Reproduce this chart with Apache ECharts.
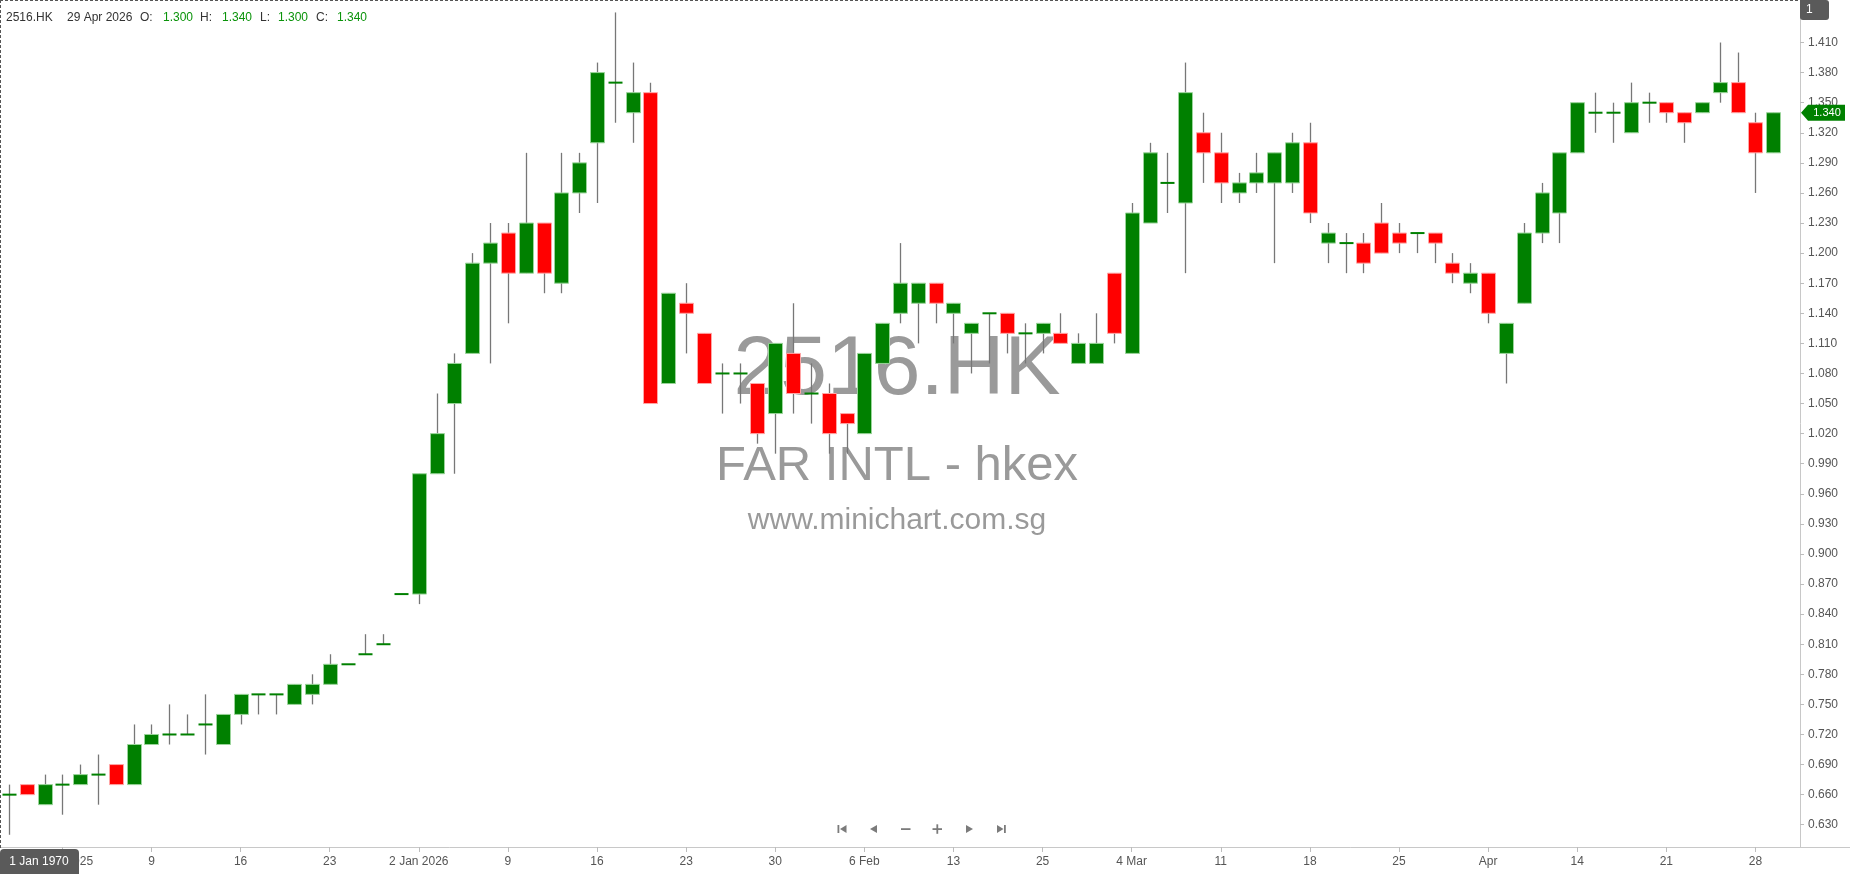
<!DOCTYPE html>
<html><head><meta charset="utf-8">
<script src="https://cdn.jsdelivr.net/npm/echarts@6/dist/echarts.min.js"></script>
<style>html,body{margin:0;padding:0;background:#fff}#c{width:1850px;height:874px}</style>
</head><body><div id="c"></div>
<script>
// ---- data ----
const dates = ['2025-11-27','2025-11-28','2025-12-01','2025-12-02','2025-12-03','2025-12-04','2025-12-05','2025-12-08','2025-12-09','2025-12-10',
'2025-12-11','2025-12-12','2025-12-15','2025-12-16','2025-12-17','2025-12-18','2025-12-19','2025-12-22','2025-12-23','2025-12-24',
'2025-12-29','2025-12-30','2025-12-31','2026-01-02','2026-01-05','2026-01-06','2026-01-07','2026-01-08','2026-01-09','2026-01-12',
'2026-01-13','2026-01-14','2026-01-15','2026-01-16','2026-01-19','2026-01-20','2026-01-21','2026-01-22','2026-01-23','2026-01-26',
'2026-01-27','2026-01-28','2026-01-29','2026-01-30','2026-02-02','2026-02-03','2026-02-04','2026-02-05','2026-02-06','2026-02-09',
'2026-02-10','2026-02-11','2026-02-12','2026-02-13','2026-02-16','2026-02-20','2026-02-23','2026-02-24','2026-02-25','2026-02-26',
'2026-02-27','2026-03-02','2026-03-03','2026-03-04','2026-03-05','2026-03-06','2026-03-09','2026-03-10','2026-03-11','2026-03-12',
'2026-03-13','2026-03-16','2026-03-17','2026-03-18','2026-03-19','2026-03-20','2026-03-23','2026-03-24','2026-03-25','2026-03-26',
'2026-03-27','2026-03-30','2026-03-31','2026-04-01','2026-04-08','2026-04-09','2026-04-10','2026-04-13','2026-04-14','2026-04-15',
'2026-04-16','2026-04-17','2026-04-20','2026-04-21','2026-04-22','2026-04-23','2026-04-24','2026-04-27','2026-04-28','2026-04-29'];

const open = [0.66,0.67,0.65,0.67,0.67,0.68,0.69,0.67,0.71,0.72,
0.72,0.73,0.71,0.74,0.76,0.76,0.75,0.76,0.77,0.79,
0.80,0.81,0.86,0.86,0.98,1.05,1.10,1.19,1.22,1.18,
1.23,1.17,1.26,1.31,1.37,1.34,1.36,1.07,1.15,1.12,
1.08,1.08,1.07,1.04,1.10,1.06,1.06,1.04,1.02,1.09,
1.14,1.15,1.17,1.14,1.12,1.14,1.14,1.12,1.12,1.12,
1.09,1.09,1.18,1.10,1.23,1.27,1.25,1.32,1.30,1.26,
1.27,1.27,1.27,1.31,1.21,1.21,1.21,1.23,1.22,1.22,
1.22,1.19,1.17,1.18,1.10,1.15,1.22,1.24,1.30,1.34,
1.34,1.32,1.35,1.35,1.34,1.34,1.36,1.37,1.33,1.30];

const high = [0.67,0.67,0.68,0.68,0.69,0.70,0.69,0.73,0.73,0.75,
0.74,0.76,0.74,0.76,0.76,0.76,0.77,0.78,0.80,0.79,
0.82,0.82,0.86,0.98,1.06,1.10,1.20,1.23,1.23,1.30,
1.23,1.30,1.30,1.39,1.44,1.39,1.37,1.16,1.17,1.12,
1.09,1.09,1.07,1.11,1.15,1.09,1.07,1.04,1.10,1.13,
1.21,1.17,1.17,1.15,1.13,1.14,1.14,1.13,1.13,1.14,
1.12,1.14,1.18,1.25,1.31,1.30,1.39,1.34,1.32,1.28,
1.30,1.30,1.32,1.33,1.23,1.22,1.22,1.25,1.23,1.22,
1.22,1.20,1.19,1.18,1.13,1.23,1.27,1.30,1.35,1.36,
1.35,1.37,1.36,1.35,1.34,1.35,1.41,1.40,1.34,1.34];

const low = [0.62,0.66,0.65,0.64,0.67,0.65,0.67,0.67,0.71,0.71,
0.72,0.70,0.71,0.73,0.74,0.74,0.75,0.75,0.77,0.79,
0.80,0.81,0.86,0.85,0.98,0.98,1.10,1.09,1.13,1.18,
1.16,1.16,1.24,1.25,1.33,1.31,1.05,1.07,1.10,1.07,
1.04,1.05,1.01,1.00,1.04,1.03,1.00,1.00,1.02,1.09,
1.13,1.11,1.13,1.11,1.08,1.09,1.10,1.09,1.10,1.11,
1.09,1.09,1.11,1.10,1.23,1.24,1.18,1.27,1.25,1.25,
1.26,1.19,1.26,1.23,1.19,1.18,1.18,1.20,1.20,1.20,
1.19,1.17,1.16,1.13,1.07,1.15,1.21,1.21,1.30,1.32,
1.31,1.32,1.33,1.33,1.31,1.34,1.35,1.34,1.26,1.30];

const close = [0.66,0.66,0.67,0.67,0.68,0.68,0.67,0.71,0.72,0.72,
0.72,0.73,0.74,0.76,0.76,0.76,0.77,0.77,0.79,0.79,
0.80,0.81,0.86,0.98,1.02,1.09,1.19,1.21,1.18,1.23,
1.18,1.26,1.29,1.38,1.37,1.36,1.05,1.16,1.14,1.07,
1.08,1.08,1.02,1.11,1.06,1.06,1.02,1.03,1.10,1.13,
1.17,1.17,1.15,1.15,1.13,1.14,1.12,1.12,1.13,1.11,
1.11,1.11,1.12,1.24,1.30,1.27,1.36,1.30,1.27,1.27,
1.28,1.30,1.31,1.24,1.22,1.21,1.19,1.20,1.21,1.22,
1.21,1.18,1.18,1.14,1.13,1.22,1.26,1.30,1.35,1.34,
1.34,1.35,1.35,1.34,1.33,1.35,1.37,1.34,1.30,1.34];

const tickIdx  = [3, 8, 13, 18, 23, 28, 33, 38, 43, 48, 53, 58, 63, 68, 73, 78, 83, 88, 93, 98];
const tickText = ['2 Dec 2025','9','16','23','2 Jan 2026','9','16','23','30','6 Feb','13','25','4 Mar','11','18','25','Apr','14','21','28'];
const yTicks = [0.63,0.66,0.69,0.72,0.75,0.78,0.81,0.84,0.87,0.90,0.93,0.96,0.99,1.02,1.05,1.08,1.11,1.14,1.17,1.20,1.23,1.26,1.29,1.32,1.35,1.38,1.41];
const yMin = 0.6078, yMax = 1.4524;
const symbol = '2516.HK', company = 'FAR INTL - hkex', site = 'www.minichart.com.sg';
const lastDate = '29 Apr 2026';

// ---- chart ----
const FONT = '"Liberation Sans", Arial, sans-serif';
const chart = echarts.init(document.getElementById('c'), null, {renderer: 'canvas'});
const seriesData = dates.map((d, i) => [i, open[i], close[i], low[i], high[i]]);

function renderItem(params, api) {
  const i = api.value(0), o = api.value(1), c = api.value(2), l = api.value(3), h = api.value(4);
  const pO = api.coord([i, o]), pC = api.coord([i, c]), pL = api.coord([i, l]), pH = api.coord([i, h]);
  const x = Math.round(pO[0]) + 0.5;
  const bw = Math.round(api.size([1, 0])[0] * 0.76);
  const children = [];
  if (h > l) {
    children.push({type: 'line', shape: {x1: x, y1: pH[1], x2: x, y2: pL[1]},
      style: {stroke: '#777777', lineWidth: 1.3}});
  }
  if (o === c) {
    children.push({type: 'line', shape: {x1: x - bw / 2, y1: pO[1], x2: x + bw / 2, y2: pO[1]},
      style: {stroke: '#008000', lineWidth: 2}});
  } else {
    const up = c > o;
    const top = Math.min(pO[1], pC[1]);
    const ht = Math.abs(pO[1] - pC[1]);
    children.push({type: 'rect', shape: {x: x - bw / 2, y: top, width: bw, height: ht},
      style: {fill: up ? '#008000' : '#ff0000', stroke: up ? '#9ad49a' : '#ffa5a5', lineWidth: 1}});
  }
  return {type: 'group', children};
}

chart.setOption({
  animation: false,
  backgroundColor: '#ffffff',
  grid: {left: 0, right: 50, top: 0, bottom: 27, containLabel: false},
  xAxis: {
    type: 'category',
    data: dates.concat(['']),
    boundaryGap: true,
    axisLine: {lineStyle: {color: '#c8c8c8', width: 1}},
    axisTick: {show: true, alignWithLabel: true, length: 5, lineStyle: {color: '#bdbdbd'},
      interval: (idx) => tickIdx.indexOf(idx) >= 0},
    axisLabel: {
      interval: (idx) => tickIdx.indexOf(idx) >= 0,
      formatter: (v, idx) => { const k = tickIdx.indexOf(idx); return k >= 0 ? tickText[k] : ''; },
      color: '#555', fontSize: 12, fontFamily: FONT, margin: 9
    },
    splitLine: {show: false}
  },
  yAxis: {
    type: 'value', position: 'right', min: yMin, max: yMax, scale: true,
    axisLine: {show: true, lineStyle: {color: '#c8c8c8', width: 1}},
    axisTick: {show: true, length: 4, lineStyle: {color: '#bdbdbd'}, customValues: yTicks},
    axisLabel: {customValues: yTicks, formatter: (v) => v.toFixed(3), color: '#555', fontSize: 12,
      fontFamily: FONT, margin: 8},
    splitLine: {show: false}
  },
  series: [{
    type: 'custom', renderItem, data: seriesData, z: 5,
    encode: {x: 0, y: [1, 2, 3, 4]}, clip: true
  }]
});

// ---- overlays ----
const lastY = chart.convertToPixel({yAxisIndex: 0}, close[close.length - 1]);
function txt(x, y, text, fill, font, align, extra) {
  return Object.assign({type: 'text', x, y, z: 100, silent: true,
    style: {text, fill, font, align: align || 'left', verticalAlign: 'middle',
      textAlign: align || 'left', textVerticalAlign: 'middle'}}, extra || {});
}
const hdrFont = '12px ' + FONT;
const green = '#0a930a';
const gray = '#7b7b7b';
const elements = [
  // watermark (behind candles)
  Object.assign(txt(897, 371, symbol, '#9a9a9a', '84px ' + FONT, 'center'), {z: 0}),
  Object.assign(txt(897, 466, company, '#9a9a9a', '49px ' + FONT, 'center'), {z: 0}),
  Object.assign(txt(897, 521, site, '#9a9a9a', '30px ' + FONT, 'center'), {z: 0}),
  // header
  txt(6, 18, symbol, '#333', hdrFont),
  txt(67, 18, lastDate, '#333', hdrFont),
  txt(140, 18, 'O:', '#333', hdrFont),
  txt(163, 18, open[open.length - 1].toFixed(3), green, hdrFont),
  txt(200, 18, 'H:', '#333', hdrFont),
  txt(222, 18, high[high.length - 1].toFixed(3), green, hdrFont),
  txt(260, 18, 'L:', '#333', hdrFont),
  txt(278, 18, low[low.length - 1].toFixed(3), green, hdrFont),
  txt(316, 18, 'C:', '#333', hdrFont),
  txt(337, 18, close[close.length - 1].toFixed(3), green, hdrFont),
  // dashed borders
  {type: 'line', z: 100, shape: {x1: 0, y1: 0.5, x2: 1800, y2: 0.5}, style: {stroke: '#555', lineWidth: 1, lineDash: [3, 2]}},
  {type: 'line', z: 100, shape: {x1: 0.5, y1: 0, x2: 0.5, y2: 848}, style: {stroke: '#555', lineWidth: 1, lineDash: [3, 2]}},
  // bottom line extension
  {type: 'line', z: 100, shape: {x1: 1800, y1: 847.5, x2: 1850, y2: 847.5}, style: {stroke: '#c8c8c8', lineWidth: 1}},
  // "1" tag
  {type: 'rect', z: 100, shape: {x: 1800, y: 0, width: 29, height: 20, r: [0, 3, 3, 3]}, style: {fill: '#5a5a5a'}},
  txt(1806, 10, '1', '#fff', '12px ' + FONT),
  // last price tag
  {type: 'polygon', z: 100, shape: {points: [[1801, lastY], [1808, lastY - 8], [1845, lastY - 8], [1845, lastY + 8], [1808, lastY + 8]]},
    style: {fill: '#008000'}},
  txt(1827, lastY, close[close.length - 1].toFixed(3), '#fff', '11px ' + FONT, 'center'),
  // time box
  {type: 'rect', z: 100, shape: {x: 0, y: 849, width: 79, height: 25, r: [4, 4, 0, 0]}, style: {fill: '#5a5a5a'}},
  txt(39, 862, '1 Jan 1970', '#fff', '12px ' + FONT, 'center'),
  // nav icons
  {type: 'rect', z: 100, shape: {x: 837.5, y: 825, width: 1.8, height: 8}, style: {fill: gray}},
  {type: 'polygon', z: 100, shape: {points: [[840, 829], [846.5, 825], [846.5, 833]]}, style: {fill: gray}},
  {type: 'polygon', z: 100, shape: {points: [[870, 829], [877, 825], [877, 833]]}, style: {fill: gray}},
  {type: 'rect', z: 100, shape: {x: 901, y: 828.2, width: 9.5, height: 1.8}, style: {fill: gray}},
  {type: 'rect', z: 100, shape: {x: 932.5, y: 828.2, width: 9.5, height: 1.8}, style: {fill: gray}},
  {type: 'rect', z: 100, shape: {x: 936.4, y: 824.3, width: 1.8, height: 9.5}, style: {fill: gray}},
  {type: 'polygon', z: 100, shape: {points: [[973, 829], [966, 825], [966, 833]]}, style: {fill: gray}},
  {type: 'polygon', z: 100, shape: {points: [[1003.5, 829], [997, 825], [997, 833]]}, style: {fill: gray}},
  {type: 'rect', z: 100, shape: {x: 1004, y: 825, width: 1.8, height: 8}, style: {fill: gray}}
];
chart.setOption({graphic: {elements}});
</script>
</body></html>
